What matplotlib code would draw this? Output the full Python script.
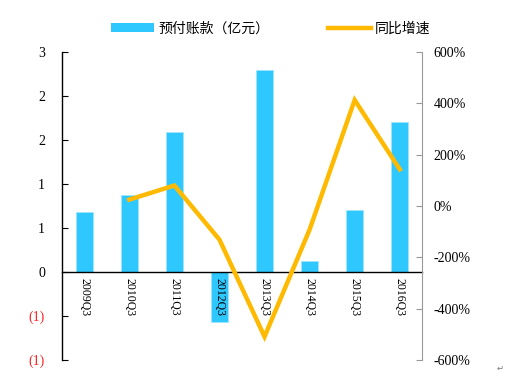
import matplotlib
matplotlib.use("Agg")
import matplotlib.pyplot as plt
from matplotlib.lines import Line2D
from matplotlib.patches import Patch
import numpy as np

plt.rcParams['font.family'] = ['Liberation Serif', 'Noto Sans CJK SC', 'DejaVu Sans']

# data
quarters = ["2009Q3", "2010Q3", "2011Q3", "2012Q3", "2013Q3", "2014Q3", "2015Q3", "2016Q3"]
prepay = [0.685, 0.875, 1.59, -0.565, 2.30, 0.13, 0.70, 1.70]          # 亿元
growth = [None, 25, 80, -131, -509, -92, 413, 143]                      # %

left_ticks = [-1, -0.5, 0, 0.5, 1, 1.5, 2, 2.5]
right_ticks = [-600, -400, -200, 0, 200, 400, 600]

BAR_COLOR = "#2EC8FF"
LINE_COLOR = "#FFBA00"


def excel_int(v):
    # Excel "0" number format: round half away from zero, negatives in parentheses
    r = int(np.sign(v) * np.floor(abs(v) + 0.5))
    return f"({abs(r)})" if v < 0 else f"{r}"


fig = plt.figure(figsize=(5.10, 3.77), dpi=100)
ax = fig.add_axes([0.121, 0.045, 0.707, 0.817])
x = np.arange(len(quarters))

ax.bar(x, prepay, width=0.38, color=BAR_COLOR, edgecolor="#9FE6FF", linewidth=0.6, zorder=1)
ax.set_xlim(-0.5, len(quarters) - 0.5)
ax.set_ylim(-1, 2.5)

ax.spines['top'].set_visible(False)
ax.spines['right'].set_visible(False)
ax.spines['bottom'].set_position(('data', 0))
ax.spines['bottom'].set_linewidth(1.0)
ax.spines['left'].set_linewidth(1.0)

ax.set_xticks(x, quarters, rotation=270, fontsize=8.5)
ax.tick_params(axis='x', length=0, pad=4)
for lbl in ax.get_xticklabels():
    lbl.set_va('top')
    lbl.set_ha('center')

ax.set_yticks(left_ticks, [excel_int(v) for v in left_ticks])
ax.tick_params(axis='y', direction='in', length=4, labelsize=10, pad=12)
for v, lbl in zip(left_ticks, ax.get_yticklabels()):
    lbl.set_color('#FF2020' if v < 0 else 'black')

ax2 = ax.twinx()
gx = [i for i, g in zip(x, growth) if g is not None]
gy = [g for g in growth if g is not None]
ax2.plot(gx, gy, color=LINE_COLOR, linewidth=3.2, solid_joinstyle='miter', zorder=3)
ax2.set_ylim(-600, 600)
ax2.set_yticks(right_ticks, [f"{v}%" for v in right_ticks])
ax2.tick_params(axis='y', direction='in', length=4, labelsize=10, pad=8, color='#999999')
for s in ['top', 'left', 'bottom']:
    ax2.spines[s].set_visible(False)
ax2.spines['right'].set_color('#999999')

handles = [Patch(facecolor=BAR_COLOR, edgecolor='none'),
           Line2D([0], [0], color=LINE_COLOR, linewidth=3.2)]
fig.legend(handles, ["预付账款（亿元）", "同比增速"], loc='center', bbox_to_anchor=(0.531, 0.923),
           ncol=2, frameon=False, fontsize=10, handlelength=3.1, handleheight=0.6,
           columnspacing=4.2, handletextpad=0.3)

fig.text(0.988, 0.012, "↵", fontsize=6, color='#777777', ha='right', va='bottom', family='DejaVu Sans')

fig.savefig("out.png", dpi=100)
